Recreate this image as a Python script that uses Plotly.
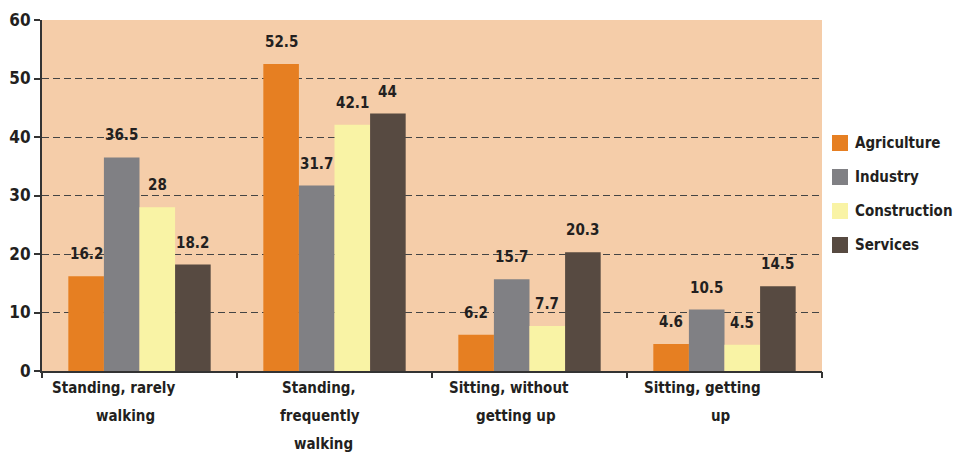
import plotly.graph_objects as go

categories = ["Standing, rarely<br>walking", "Standing,<br>frequently<br>walking",
              "Sitting, without<br>getting up", "Sitting, getting<br>up"]
series_names = ["Agriculture", "Industry", "Construction", "Services"]
agriculture = [16.2, 52.5, 6.2, 4.6]
industry = [36.5, 31.7, 15.7, 10.5]
construction = [28, 42.1, 7.7, 4.5]
services = [18.2, 44, 20.3, 14.5]
y_ticks = [0, 10, 20, 30, 40, 50, 60]

# horizontal nudge (px) of each wrapped label line, as set in the original
label_dx = [[-26, -14], [-16, -15, -11], [-21, -14], [-22, -4]]

colors = ["#E67F22", "#808084", "#F9F3A5", "#574A41"]
FONT = "DejaVu Sans Condensed"
TXT = "#231F20"
GAP = 0.27
W, H = 954, 454
ML, MR, MT, MB = 42, 132, 20, 83
PW, PH = W - ML - MR, H - MT - MB

fig = go.Figure()
all_series = [agriculture, industry, construction, services]
xs = list(range(len(categories)))
w = (1 - GAP) / len(all_series)
for k, (name, vals, col) in enumerate(zip(series_names, all_series, colors)):
    fig.add_trace(go.Bar(
        x=xs, y=vals, name=name, showlegend=False,
        marker=dict(color=col, line=dict(width=0)),
    ))
    off = (-1.5 + k) * w
    for i, v in enumerate(vals):
        fig.add_annotation(x=i + off, y=v, text=f"{v:g}", showarrow=False,
                           yanchor="middle", yshift=22,
                           font=dict(family=FONT, size=15, color=TXT, weight="bold"))

# category labels (multi-line, wider line spacing than plotly's tick labels)
for i, cat in enumerate(categories):
    for j, line in enumerate(cat.split("<br>")):
        fig.add_annotation(x=i, y=0, text=line, showarrow=False, yanchor="middle",
                           xshift=label_dx[i][j], yshift=-(17 + 28 * j),
                           font=dict(family=FONT, size=15, color=TXT, weight="bold"))

# legend drawn by hand so it does not push the plot margins
for k, (name, col) in enumerate(zip(series_names, colors)):
    cy = 143 + 34 * k
    y0 = (H - MB - (cy + 8)) / PH
    y1 = (H - MB - (cy - 8)) / PH
    x0 = (832 - ML) / PW
    x1 = (848 - ML) / PW
    fig.add_shape(type="rect", xref="paper", yref="paper", x0=x0, x1=x1, y0=y0, y1=y1,
                  fillcolor=col, line=dict(width=0))
    fig.add_annotation(xref="paper", yref="paper", x=(853 - ML) / PW,
                       y=(H - MB - cy) / PH, text=name, showarrow=False,
                       xanchor="left", yanchor="middle",
                       font=dict(family=FONT, size=15, color=TXT, weight="bold"))

fig.update_layout(
    width=W, height=H,
    margin=dict(l=ML, r=MR, t=MT, b=MB),
    paper_bgcolor="white", plot_bgcolor="#F5CDA9",
    barmode="group", bargap=GAP, bargroupgap=0,
    font=dict(family=FONT, color=TXT),
    showlegend=False,
    xaxis=dict(
        tickvals=xs, showticklabels=False, range=[-0.5, 3.5], automargin=False,
        showline=True, linecolor="#333", linewidth=2, ticks="",
        showgrid=False, zeroline=False,
    ),
    xaxis2=dict(
        overlaying="x", range=[-0.5, 3.5], tickvals=[-0.5, 0.5, 1.5, 2.5, 3.5],
        showticklabels=False, ticks="outside", ticklen=6, tickcolor="#333",
        tickwidth=1.5, side="bottom", showgrid=False, zeroline=False, automargin=False,
    ),
    yaxis=dict(
        range=[0, 60], tickvals=y_ticks, showline=True, linecolor="#333", linewidth=2,
        ticks="outside", ticklen=6, tickcolor="#333", tickwidth=1.5, automargin=False,
        showgrid=True, gridcolor="#444", griddash="7px,4px", gridwidth=1.4,
        zeroline=False, tickfont=dict(family=FONT, size=17, color=TXT, weight="bold"),
    ),
)
# invisible trace to show boundary ticks on the bottom axis
fig.add_trace(go.Scatter(x=[-0.5], y=[0], xaxis="x2", mode="markers",
                         marker=dict(opacity=0), showlegend=False, hoverinfo="skip"))

fig.write_html("out.html", config={"displayModeBar": False},
               post_script="document.body.style.margin='0';")
